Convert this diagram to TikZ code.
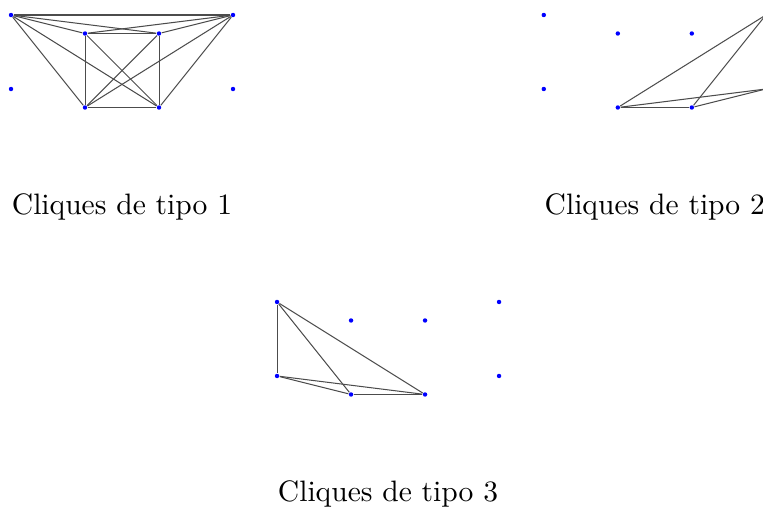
\documentclass[tikz,border=0pt]{standalone}
\usepackage{tikz}
\usetikzlibrary{positioning}
\tikzstyle{punto}=[circle,fill=blue,inner sep=0pt,minimum size=1.5pt]
\tikzstyle{arista}=[draw=black!70,line width=0.35pt]
\tikzstyle{every node}=[font=\normalsize]
% los ocho puntos de cada figura, con prefijo #1
\newcommand{\puntos}[1]{%
    \node[punto] (#1ul) at (0,0) {};
    \node[punto] (#1ur) at (3,0) {};
    \node[punto] (#1ll) at (0,-1) {};
    \node[punto] (#1lr) at (3,-1) {};
    \node[punto] (#1iul) at (1,-0.25) {};
    \node[punto] (#1iur) at (2,-0.25) {};
    \node[punto] (#1ill) at (1,-1.25) {};
    \node[punto] (#1ilr) at (2,-1.25) {};
}

\begin{document}
\begin{tikzpicture}[x=0.88cm,y=0.88cm]
    \clip (-0.149,0.203) rectangle (10.162,-6.716);
    % tipo 1
    \begin{scope}
        \puntos{a}
        \node (lab1) at (1.5,-2.6) {Cliques de tipo 1};
        \foreach \p/\q in {ul/ur,ul/iul,ul/iur,ul/ill,ul/ilr,ur/iul,ur/iur,ur/ill,ur/ilr,
                           iul/iur,iul/ill,iul/ilr,iur/ill,iur/ilr,ill/ilr}
            \draw[arista] (a\p) -- (a\q);
    \end{scope}
    % tipo 2
    \begin{scope}[shift={(7.2,0)}]
        \puntos{b}
        \node (lab2) at (1.5,-2.6) {Cliques de tipo 2};
        \foreach \p/\q in {ill/ilr,ill/ur,ilr/ur,ill/lr,ilr/lr}
            \draw[arista] (b\p) -- (b\q);
    \end{scope}
    % tipo 3
    \begin{scope}[shift={(3.595,-3.878)}]
        \puntos{c}
        \node (lab3) at (1.5,-2.59) {Cliques de tipo 3};
        \foreach \p/\q in {ul/ll,ul/ill,ul/ilr,ll/ill,ll/ilr,ill/ilr}
            \draw[arista] (c\p) -- (c\q);
    \end{scope}
\end{tikzpicture}
\end{document}
